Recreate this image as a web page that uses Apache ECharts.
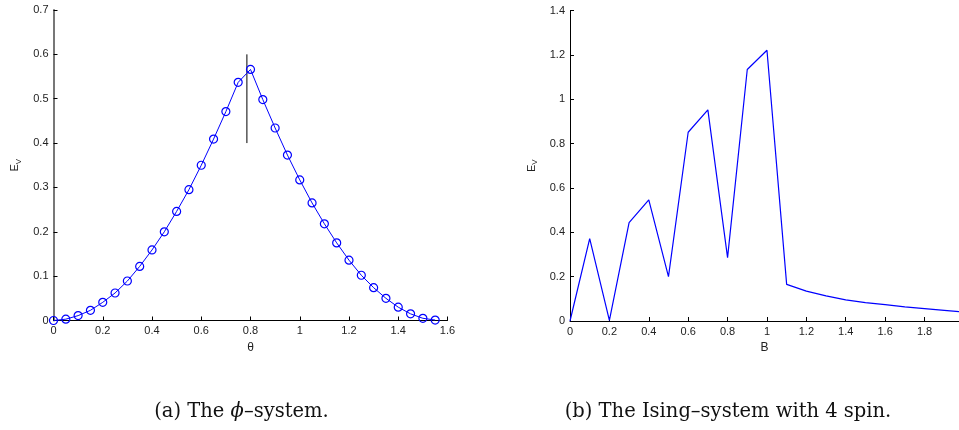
<!DOCTYPE html>
<html>
<head>
<meta charset="utf-8">
<script src="https://cdn.jsdelivr.net/npm/echarts@6/dist/echarts.min.js"></script>
<style>
html,body{margin:0;padding:0;background:#fff;}
#c{width:959px;height:430px;}
</style>
</head>
<body>
<div id="c"></div>
<script>
// (a) phi-system
const phiTheta = [0,0.05,0.1,0.15,0.2,0.25,0.3,0.35,0.4,0.45,0.5,0.55,0.6,0.65,0.7,0.75,0.8,0.85,0.9,0.95,1.0,1.05,1.1,1.15,1.2,1.25,1.3,1.35,1.4,1.45,1.5,1.55];
const phiEv = [0,0.003,0.011,0.023,0.041,0.062,0.089,0.122,0.159,0.200,0.246,0.295,0.350,0.409,0.471,0.537,0.566,0.498,0.434,0.373,0.317,0.265,0.218,0.175,0.136,0.102,0.074,0.050,0.030,0.015,0.005,0.001];
const markLineX = [0.7854,0.7854];
const markLineY = [0.4,0.6];
// (b) Ising-system with 4 spin
const isingB = [0,0.1,0.2,0.3,0.4,0.5,0.6,0.7,0.8,0.9,1.0,1.1,1.2,1.3,1.4,1.5,1.6,1.7,1.8,1.9,1.975];
const isingEv = [0,0.371,0.003,0.444,0.546,0.200,0.851,0.952,0.286,1.134,1.221,0.165,0.135,0.113,0.095,0.083,0.074,0.064,0.056,0.048,0.042];
// ticks
const xTicksB = [0,0.2,0.4,0.6,0.8,1,1.2,1.4,1.6,1.8];
const captionA = ['(a) The ', 'ϕ', '–system.'];
const captionB = '(b) The Ising–system with 4 spin.';

const blue = '#0000ff';
const serif = 'DejaVu Serif, Liberation Serif, serif';
const capSize = 19.5;
const lab = {fontFamily:'Liberation Sans, Arial, sans-serif', fontSize:11, color:'#222'};
const evName = {
  name:'{e|E}{s|V}',
  nameLocation:'middle',
  nameRotate:90,
  nameGap:31,
  nameTextStyle:{fontFamily:'Liberation Sans', fontSize:11, color:'#222',
    rich:{e:{fontSize:11, fontFamily:'Liberation Sans', color:'#222'}, s:{fontSize:8, fontFamily:'Liberation Sans', color:'#222', padding:[7,0,0,0]}}}
};
function axisCommon(lineColor, lineWidth){
  return {
    axisLine:{show:true, onZero:false, lineStyle:{color:lineColor, width:lineWidth}},
    axisTick:{show:true, inside:true, length:4, lineStyle:{color:'#000'}},
    splitLine:{show:false},
    axisLabel:Object.assign({margin:5}, lab)
  };
}

const chart = echarts.init(document.getElementById('c'), null, {renderer:'canvas'});
chart.setOption({
  animation:false,
  backgroundColor:'#fff',
  grid:[
    {left:53.5, top:10, width:394, height:310.5},
    {left:570, top:10.5, width:389, height:310.5}
  ],
  xAxis:[
    Object.assign(axisCommon('#000',1), {
      gridIndex:0, type:'value', min:0, max:1.6, interval:0.2,
      name:'θ', nameLocation:'middle', nameGap:18,
      nameTextStyle:{fontFamily:'Liberation Sans', fontSize:12, color:'#222'}
    }),
    (function(){
      const a = axisCommon('#000',1);
      a.axisLabel.customValues = xTicksB;
      a.axisTick.customValues = xTicksB;
      return Object.assign(a, {
        gridIndex:1, type:'value', min:0, max:1.975,
        name:'B', nameLocation:'middle', nameGap:18,
        nameTextStyle:{fontFamily:'Liberation Sans', fontSize:12, color:'#222'}
      });
    })()
  ],
  yAxis:[
    Object.assign(axisCommon('#777',2), evName, {gridIndex:0, type:'value', min:0, max:0.7, interval:0.1}),
    Object.assign(axisCommon('#000',1), evName, {gridIndex:1, type:'value', min:0, max:1.4, interval:0.2})
  ],
  series:[
    {type:'line', xAxisIndex:0, yAxisIndex:0,
     data:phiTheta.map((t,i)=>[t,phiEv[i]]),
     symbol:'circle', symbolSize:8, showAllSymbol:true,
     lineStyle:{color:blue, width:1},
     itemStyle:{color:'rgba(0,0,0,0)', borderColor:blue, borderWidth:1.2},
     z:3},
    {type:'line', xAxisIndex:0, yAxisIndex:0,
     data:markLineX.map((x,i)=>[x,markLineY[i]]),
     symbol:'none', lineStyle:{color:'#000', width:1}, z:2},
    {type:'line', xAxisIndex:1, yAxisIndex:1,
     data:isingB.map((b,i)=>[b,isingEv[i]]),
     symbol:'none', lineStyle:{color:blue, width:1.2}}
  ],
  graphic:[
    {type:'text', x:241.5, y:412,
     style:{text:'{n|'+captionA[0]+'}{i|'+captionA[1]+'}{n|'+captionA[2]+'}',
       align:'center', verticalAlign:'middle',
       rich:{n:{fontFamily:serif, fontSize:capSize, fill:'#111', color:'#111'},
             i:{fontFamily:serif, fontSize:capSize, fontStyle:'italic', fill:'#111', color:'#111'}}}},
    {type:'text', x:728, y:412,
     style:{text:captionB, align:'center', verticalAlign:'middle', fontFamily:serif, fontSize:capSize, fill:'#111'}}
  ]
});
</script>
</body>
</html>
